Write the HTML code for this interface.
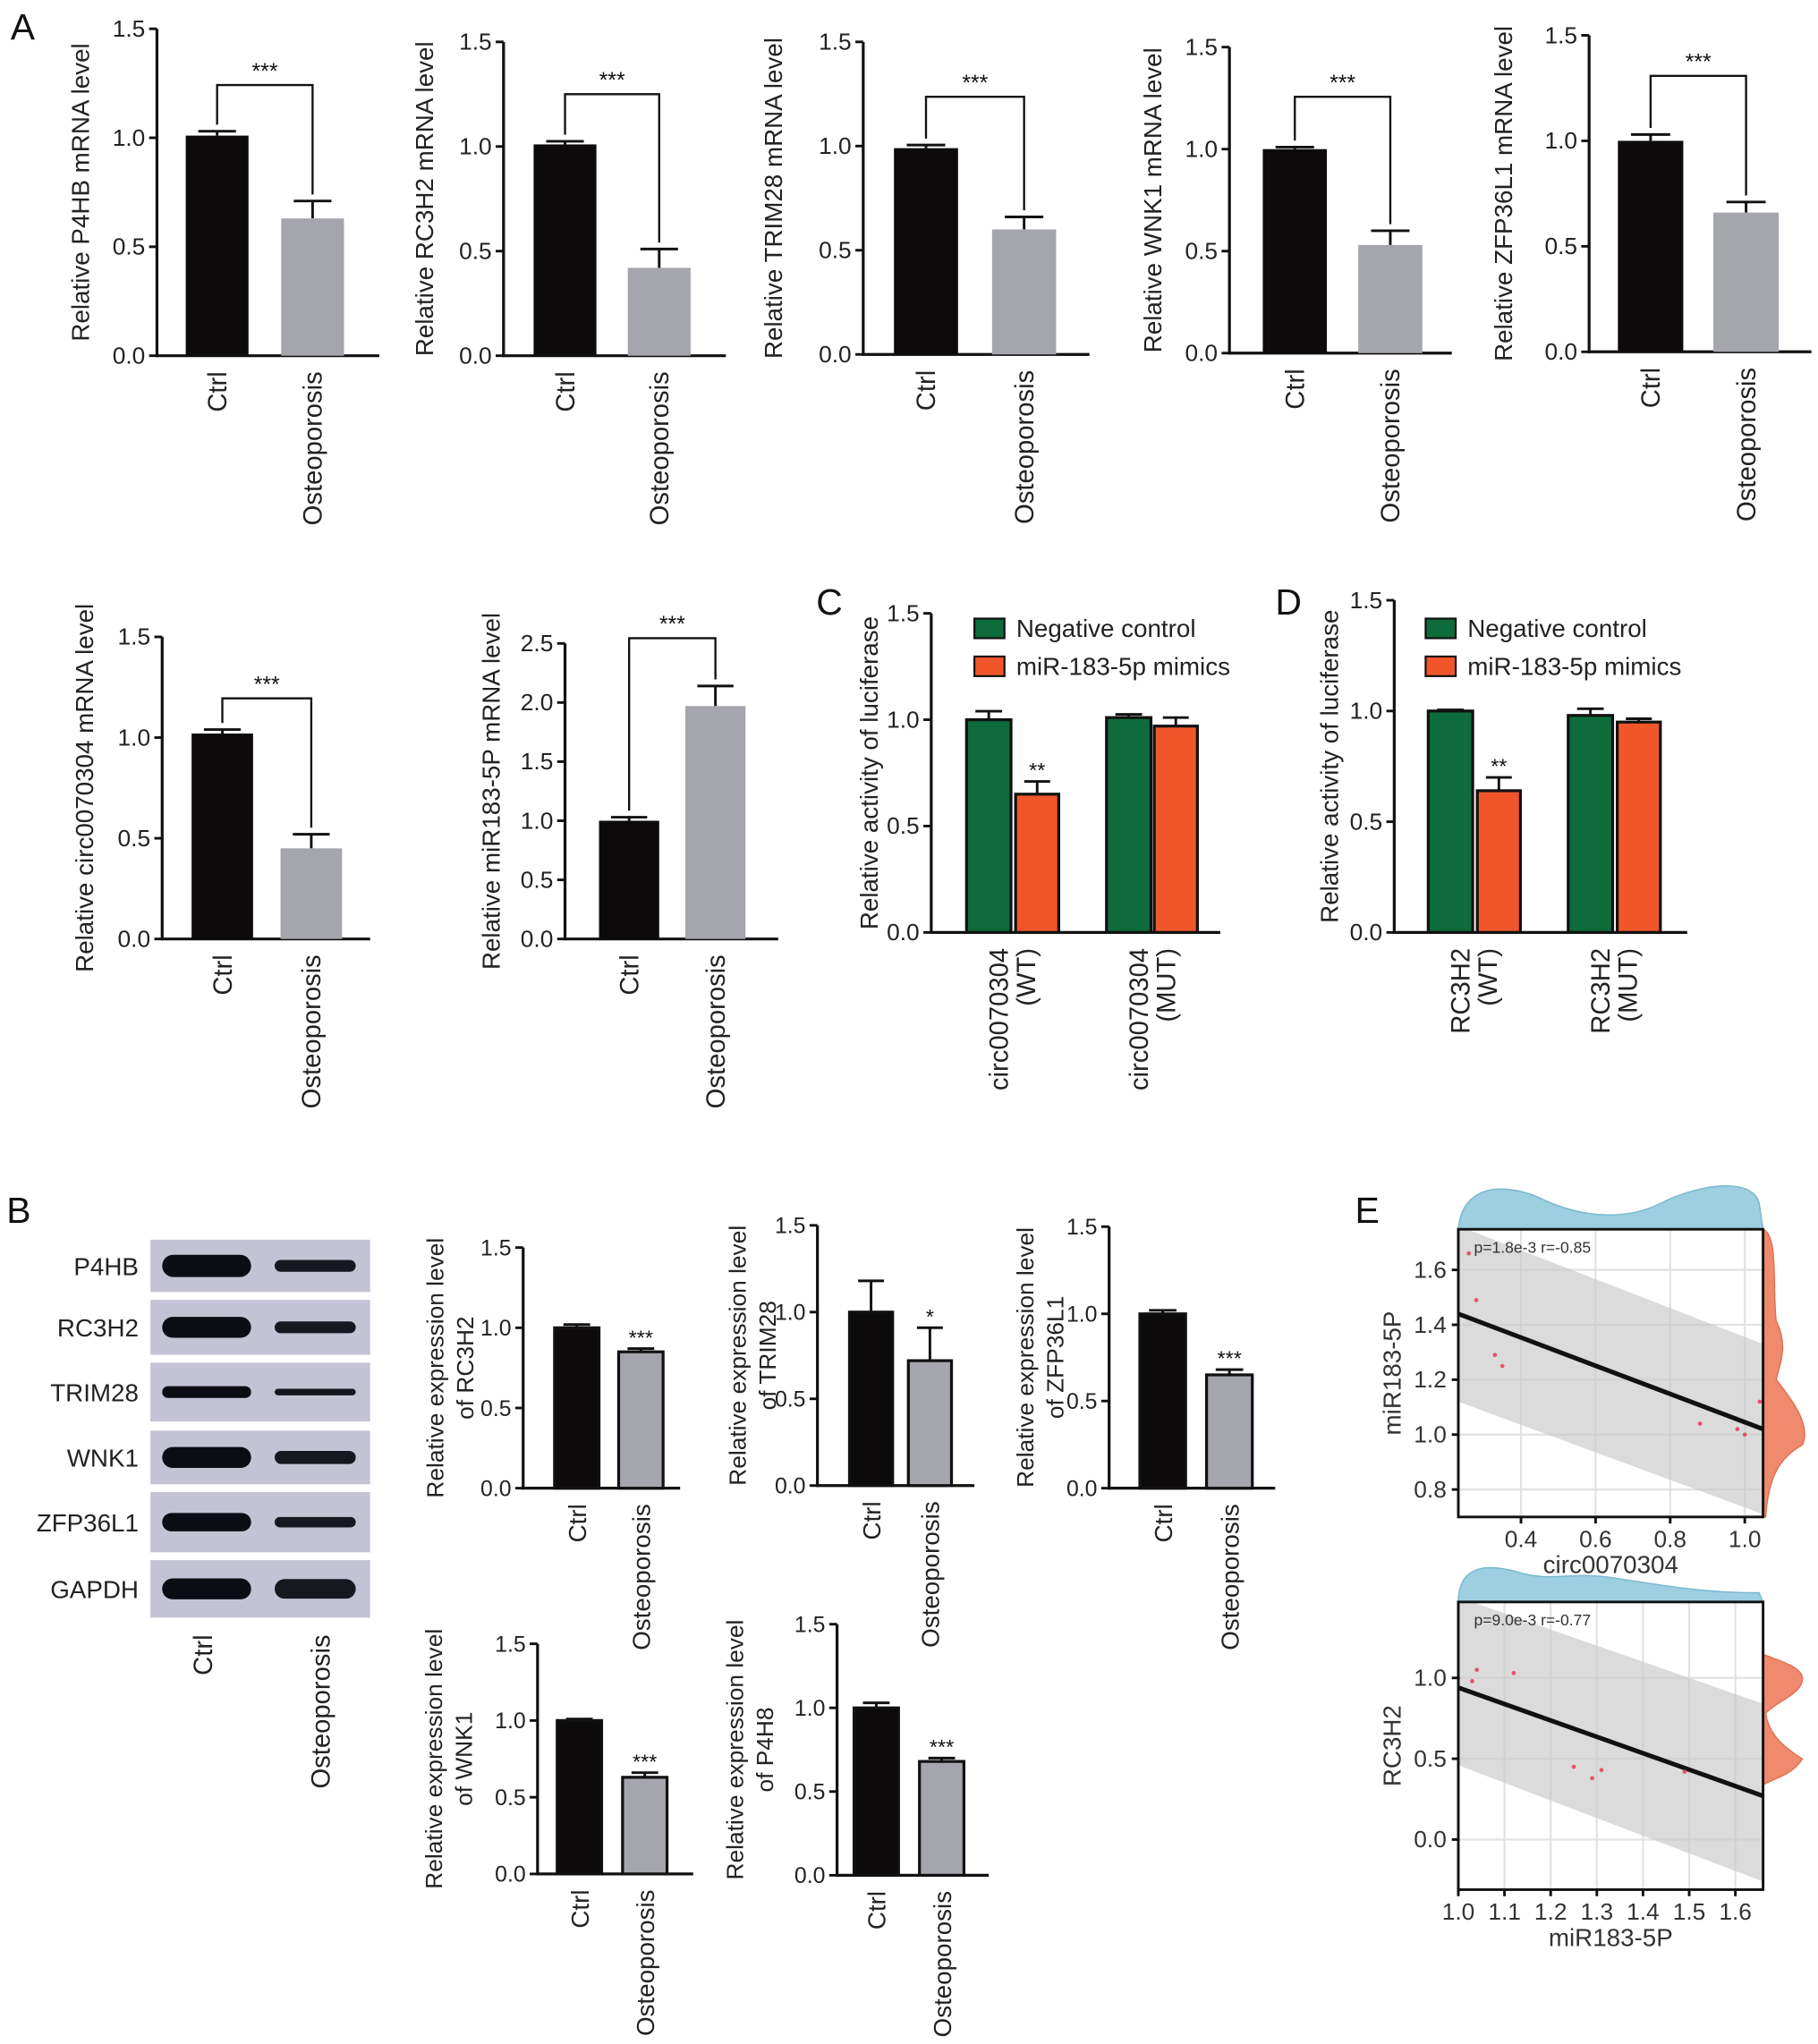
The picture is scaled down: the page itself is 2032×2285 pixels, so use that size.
<!DOCTYPE html>
<html><head><meta charset="utf-8"><style>
html,body{margin:0;padding:0;background:#fff}
svg{display:block;font-family:"Liberation Sans",Arial,sans-serif}
</style></head><body>
<svg id="fig" xmlns="http://www.w3.org/2000/svg" width="2032" height="2285" viewBox="0 0 1390 1563">
<rect x="0" y="0" width="1390" height="1563" fill="#fff"/>
<g id="root"></g>
</svg>
<script>
// ---- data ----
const groups = ["Ctrl","Osteoporosis"];
const p4hbMrna = [1.01, 0.63]; const p4hbMrnaErr = [0.02, 0.08];
const rc3h2Mrna = [1.01, 0.42]; const rc3h2MrnaErr = [0.015, 0.09];
const trim28Mrna = [0.99, 0.60]; const trim28MrnaErr = [0.015, 0.06];
const wnk1Mrna = [1.0, 0.53]; const wnk1MrnaErr = [0.01, 0.07];
const zfpMrna = [1.0, 0.66]; const zfpMrnaErr = [0.03, 0.05];
const circMrna = [1.02, 0.45]; const circMrnaErr = [0.02, 0.07];
const mirMrna = [1.0, 1.97]; const mirMrnaErr = [0.03, 0.17];
const lucCircNC = [1.0, 1.01]; const lucCircNCErr = [0.04, 0.015];
const lucCircMim = [0.65, 0.97]; const lucCircMimErr = [0.06, 0.04];
const lucRcNC = [1.0, 0.98]; const lucRcNCErr = [0.005, 0.03];
const lucRcMim = [0.64, 0.95]; const lucRcMimErr = [0.06, 0.015];
const protRc3h2 = [1.0, 0.85]; const protRc3h2Err = [0.02, 0.02];
const protTrim28 = [1.0, 0.72]; const protTrim28Err = [0.18, 0.19];
const protZfp = [1.0, 0.65]; const protZfpErr = [0.02, 0.03];
const protWnk1 = [1.0, 0.63]; const protWnk1Err = [0.01, 0.03];
const protP4hb = [1.0, 0.68]; const protP4hbErr = [0.03, 0.02];
const circX = [0.23,0.26,0.28,0.33,0.35,0.88,0.98,1.0,1.04];
const circMirY = [1.30,1.66,1.49,1.29,1.25,1.04,1.02,1.0,1.12];
const mirX = [1.0,1.03,1.04,1.12,1.25,1.29,1.31,1.49];
const mirRcY = [1.0,0.98,1.05,1.03,0.45,0.38,0.43,0.42];

const NS="http://www.w3.org/2000/svg";
const root=document.getElementById('root');
function el(tag,attrs,parent,txt){const e=document.createElementNS(NS,tag);for(const k in attrs)e.setAttribute(k,attrs[k]);if(txt!==undefined)e.textContent=txt;(parent||root).appendChild(e);return e;}

function chart(o){
  const g=el('g',{});
  
  
  const sy=v=>o.yb-(v/o.ymax)*(o.yb-o.yt);
  const ya=el('line',{x1:o.ax,y1:o.yt,x2:o.ax,y2:o.yb+1,stroke:'#111','stroke-width':2.2},g);
  
  const xa=el('line',{x1:o.ax-1,y1:o.yb,x2:o.xEnd,y2:o.yb,stroke:'#111','stroke-width':2.2},g);
  
  for(let v=0;v<=o.ymax+1e-9;v+=o.step){
    const y=sy(v);
    el('line',{x1:o.ax-6,y1:y,x2:o.ax,y2:y,stroke:'#111','stroke-width':2},g);
    const t=el('text',{x:o.ax-9,y:y+6,'text-anchor':'end','font-size':o.fs||18,fill:'#222'},g,v.toFixed(1));
    
  }
  o.ylab.forEach(l=>{const t=el('text',{x:0,y:0,transform:`translate(${l.x},${o.ylmid||(o.yt+o.yb)/2}) rotate(-90)`,'text-anchor':'middle','font-size':o.lfs||19,fill:'#222'},g,l.t);
    });
  o.series.forEach(s=>{
    s.vals.forEach((v,i)=>{
      const c=s.cx[i],w=s.w,y=sy(v);
      const ey=sy(v+s.err[i]);
      el('line',{x1:c,y1:y,x2:c,y2:ey,stroke:'#111','stroke-width':2},g);
      el('line',{x1:c-w*0.3,y1:ey,x2:c+w*0.3,y2:ey,stroke:'#111','stroke-width':2},g);
      const r=el('rect',{x:c-w/2,y:y,width:w,height:o.yb-y,fill:s.fill[i],stroke:s.stroke?'#111':'none','stroke-width':s.stroke?2.2:0},g);
      
      
      if(s.sig&&s.sig[i]){const t=el('text',{x:c,y:ey-3,'text-anchor':'middle','font-size':16,fill:'#111'},g,s.sig[i]);
        }
    });
  });
  if(o.bracket){
    const s=o.series[0];const b=o.bracket;
    const y1=sy(s.vals[0]+s.err[0])-5, y2=sy(s.vals[1]+s.err[1])-5;
    el('polyline',{points:`${s.cx[0]},${y1} ${s.cx[0]},${b.y} ${s.cx[1]},${b.y} ${s.cx[1]},${y2}`,fill:'none',stroke:'#111','stroke-width':1.6},g);
    const t=el('text',{x:(s.cx[0]+s.cx[1])/2,y:b.y-5,'text-anchor':'middle','font-size':17,fill:'#111'},g,'***');
    
  }
  o.xl.forEach(l=>{
    l.lines.forEach((ln,j)=>{
      const x=l.x+7+(j-(l.lines.length-1)/2)*21;
      const t=el('text',{x:0,y:0,transform:`translate(${x},${o.yb+12}) rotate(-90)`,'text-anchor':'end','font-size':o.xfs||20,fill:'#222'},g,ln);
      
    });
  });
  return g;
}
const BLK='#0d0a0b',GRY='#a5a5ad',GRN='#0e6b3b',ORG='#f0562a';
function two(name,ax,yt,yb,xEnd,cx,w,vals,err,ylab,bracketY,opts){
  opts=opts||{};
  return chart(Object.assign({name,ax,yt,yb,ymax:opts.ymax||1.5,step:0.5,xEnd,
    series:[{cx,w,vals,err,fill:[BLK,GRY],stroke:opts.stroke,sig:opts.sig,label:'expr'}],
    ylab,bracket:bracketY?{y:bracketY}:null,
    xl:[{x:cx[0],lines:[groups[0]]},{x:cx[1],lines:[groups[1]]}]},opts.extra||{}));
}
two('chart-p4hb-mrna',120,22,272,290,[166,239],48,p4hbMrna,p4hbMrnaErr,[{x:68,t:'Relative P4HB mRNA level'}],65);
two('chart-rc3h2-mrna',385,32,272,555,[432,504],48,rc3h2Mrna,rc3h2MrnaErr,[{x:331,t:'Relative RC3H2 mRNA level'}],72);
two('chart-trim28-mrna',660,32,271,833,[708,783],49,trim28Mrna,trim28MrnaErr,[{x:598,t:'Relative TRIM28 mRNA level'}],74);
two('chart-wnk1-mrna',940,36,270,1110,[990,1063],49,wnk1Mrna,wnk1MrnaErr,[{x:888,t:'Relative WNK1 mRNA level'}],74);
two('chart-zfp36l1-mrna',1215,27,269,1385,[1262,1335],50,zfpMrna,zfpMrnaErr,[{x:1156,t:'Relative ZFP36L1 mRNA level'}],58);
two('chart-circ-mrna',124,487,718,283,[170,238],47,circMrna,circMrnaErr,[{x:71,t:'Relative circ0070304 mRNA level'}],534);
two('chart-mir183-mrna',432,492,718,595,[481,547],46,mirMrna,mirMrnaErr,[{x:382,t:'Relative miR183-5P mRNA level'}],488,{ymax:2.5});
chart({name:'chart-luciferase-circ',ax:712,yt:469,yb:713,ymax:1.5,step:0.5,xEnd:933,
  series:[{cx:[756,863],w:34,vals:lucCircNC,err:lucCircNCErr,fill:[GRN,GRN],stroke:true,label:'negative-control'},
          {cx:[793,899],w:33,vals:lucCircMim,err:lucCircMimErr,fill:[ORG,ORG],stroke:true,sig:['**',''],label:'mimics'}],
  ylab:[{x:671,t:'Relative activity of luciferase'}],xl:[{x:774,lines:['circ0070304','(WT)']},{x:881,lines:['circ0070304','(MUT)']}]});
chart({name:'chart-luciferase-rc3h2',ax:1066,yt:459,yb:713,ymax:1.5,step:0.5,xEnd:1290,
  series:[{cx:[1109,1216],w:34,vals:lucRcNC,err:lucRcNCErr,fill:[GRN,GRN],stroke:true,label:'negative-control'},
          {cx:[1146,1253],w:33,vals:lucRcMim,err:lucRcMimErr,fill:[ORG,ORG],stroke:true,sig:['**',''],label:'mimics'}],
  ylab:[{x:1023,t:'Relative activity of luciferase'}],xl:[{x:1127,lines:['RC3H2','(WT)']},{x:1234,lines:['RC3H2','(MUT)']}]});
function legend(x,y){
  [[GRN,'Negative control'],[ORG,'miR-183-5p mimics']].forEach((d,i)=>{
    const r=el('rect',{x:x,y:y+i*29-8,width:23,height:15,fill:d[0],stroke:'#111','stroke-width':1.5});
    
    const t=el('text',{x:x+32,y:y+i*29+6,'font-size':19,fill:'#222'},root,d[1]);
    
  });
}
legend(745,481);legend(1090,481);
const bo={stroke:true,sig:['','***'],extra:{lfs:18,xfs:19,fs:17}};
two('chart-rc3h2-protein',400,954,1138,520,[441,490],34,protRc3h2,protRc3h2Err,[{x:339,t:'Relative expression level'},{x:362,t:'of RC3H2'}],null,bo);
two('chart-trim28-protein',625,937,1136,745,[666,711],33,protTrim28,protTrim28Err,[{x:570,t:'Relative expression level'},{x:593,t:'of TRIM28'}],null,{stroke:true,sig:['','*'],extra:bo.extra});
two('chart-zfp36l1-protein',848,938,1138,975,[889,940],35,protZfp,protZfpErr,[{x:790,t:'Relative expression level'},{x:813,t:'of ZFP36L1'}],null,bo);
two('chart-wnk1-protein',411,1257,1433,530,[443,493],34,protWnk1,protWnk1Err,[{x:338,t:'Relative expression level'},{x:361,t:'of WNK1'}],null,bo);
two('chart-p4hb-protein',640,1242,1434,756,[670,720],34,protP4hb,protP4hbErr,[{x:568,t:'Relative expression level'},{x:591,t:'of P4H8'}],null,bo);
// Western blot
const blotRows=[['P4HB',948,988,[17,9]],['RC3H2',994,1036,[16,9]],['TRIM28',1042,1087,[9,5]],['WNK1',1094,1135,[16,10]],['ZFP36L1',1141,1187,[14,8]],['GAPDH',1193,1237,[16,15]]];
blotRows.forEach(r=>{
  const g=el('g',{});
  el('rect',{x:115,y:r[1],width:168,height:r[2]-r[1],fill:'#c4c3d6'},g);
  const cy=(r[1]+r[2])/2;
  el('rect',{x:124,y:cy-r[3][0]/2,width:68,height:r[3][0],rx:r[3][0]/2,fill:'#0c0c14'},g);
  el('rect',{x:210,y:cy-r[3][1]/2,width:62,height:r[3][1],rx:r[3][1]/2,fill:'#17171f'},g);
  const t=el('text',{x:106,y:cy+7,'text-anchor':'end','font-size':19,fill:'#222'},g,r[0]);
  
});
[[155,'Ctrl'],[245,'Osteoporosis']].forEach(d=>{const t=el('text',{x:0,y:0,transform:`translate(${d[0]+7},1250) rotate(-90)`,'text-anchor':'end','font-size':20,fill:'#222'},root,d[1]);
  });
[['A',8,30],['C',624,470],['D',975,470],['B',5,935],['E',1036,935]].forEach(d=>{const t=el('text',{x:d[1],y:d[2],'font-size':28,fill:'#111'},root,d[0]);
  });
function scatter(o){
  const g=el('g',{});
  const sx=v=>o.x0+(v-o.xd[0])/(o.xd[1]-o.xd[0])*(o.x1-o.x0);
  const sy=v=>o.y1-(v-o.yd[0])/(o.yd[1]-o.yd[0])*(o.y1-o.y0);
  const cid='clip'+o.name;
  const cp=el('clipPath',{id:cid},g);el('rect',{x:o.x0,y:o.y0,width:o.x1-o.x0,height:o.y1-o.y0},cp);
  const dt=el('path',{d:o.topD,fill:'#9dcfe0',stroke:'#7ab8cf','stroke-width':1},g);
  
  const dr=el('path',{d:o.rightD,fill:'#ef8a6e',stroke:'#e07050','stroke-width':1},g);
  
  const inner=el('g',{'clip-path':`url(#${cid})`},g);
  o.xt.forEach(v=>el('line',{x1:sx(v),y1:o.y0,x2:sx(v),y2:o.y1,stroke:'#e2e2e2','stroke-width':1.5},inner));
  o.yt.forEach(v=>el('line',{x1:o.x0,y1:sy(v),x2:o.x1,y2:sy(v),stroke:'#e2e2e2','stroke-width':1.5},inner));
  const band=el('polygon',{points:`${o.x0},${sy(o.band[0])} ${o.x1},${sy(o.band[1])} ${o.x1},${sy(o.band[3])} ${o.x0},${sy(o.band[2])}`,fill:'#c8c8c8','fill-opacity':0.65},inner);
  
  const ln=el('line',{x1:o.x0,y1:sy(o.fit[0]),x2:o.x1,y2:sy(o.fit[1]),stroke:'#111','stroke-width':3.5},inner);
  
  o.xs.forEach((v,i)=>{const p=el('circle',{cx:sx(v),cy:sy(o.ys[i]),r:1.6,fill:'#e8506a'},inner);
    });
  el('rect',{x:o.x0,y:o.y0,width:o.x1-o.x0,height:o.y1-o.y0,fill:'none',stroke:'#111','stroke-width':2},g);
  o.xt.forEach(v=>{el('line',{x1:sx(v),y1:o.y1,x2:sx(v),y2:o.y1+5,stroke:'#111','stroke-width':2},g);
    const t=el('text',{x:sx(v),y:o.y1+23,'text-anchor':'middle','font-size':18,fill:'#333'},g,v.toFixed(1));
    });
  o.yt.forEach(v=>{el('line',{x1:o.x0-5,y1:sy(v),x2:o.x0,y2:sy(v),stroke:'#111','stroke-width':2},g);
    const t=el('text',{x:o.x0-9,y:sy(v)+6,'text-anchor':'end','font-size':18,fill:'#333'},g,v.toFixed(1));
    });
  const xtl=el('text',{x:(o.x0+o.x1)/2,y:o.y1+43,'text-anchor':'middle','font-size':19,fill:'#333'},g,o.xlab);
  
  const ytl=el('text',{x:0,y:0,transform:`translate(${o.x0-44},${(o.y0+o.y1)/2}) rotate(-90)`,'text-anchor':'middle','font-size':19,fill:'#333'},g,o.ylab);
  
  const st=el('text',{x:o.x0+12,y:o.y0+18,'font-size':12,fill:'#333'},g,o.stat);
  
}
scatter({name:'scatter-circ-mir',x0:1115,x1:1348,y0:940,y1:1160,xd:[0.232,1.049],yd:[0.7,1.748],
  xt:[0.4,0.6,0.8,1.0],yt:[0.8,1.0,1.2,1.4,1.6],xs:circX,ys:circMirY,fit:[1.44,1.02],band:[1.76,1.33,1.12,0.71],
  xlab:'circ0070304',ylab:'miR183-5P',stat:'p=1.8e-3 r=-0.85',
  topD:'M1115,940 C1118,905 1150,905 1175,915 C1205,930 1240,935 1270,920 C1300,905 1340,900 1345,920 L1348,940 Z',
  rightD:'M1348,940 C1360,945 1355,985 1358,1010 C1368,1030 1360,1045 1358,1055 C1370,1070 1385,1090 1378,1105 C1360,1115 1352,1130 1350,1160 L1348,1160 Z'});
scatter({name:'scatter-mir-rc3h2',x0:1115,x1:1348,y0:1225,y1:1445,xd:[1.0,1.66],yd:[-0.31,1.47],
  xt:[1.0,1.1,1.2,1.3,1.4,1.5,1.6],yt:[0.0,0.5,1.0],xs:mirX,ys:mirRcY,fit:[0.94,0.27],band:[1.5,0.84,0.46,-0.26],
  xlab:'miR183-5P',ylab:'RC3H2',stat:'p=9.0e-3 r=-0.77',
  topD:'M1115,1225 C1115,1198 1135,1195 1160,1202 C1185,1210 1200,1202 1230,1206 C1270,1212 1300,1218 1345,1218 L1348,1225 Z',
  rightD:'M1348,1265 C1360,1270 1380,1275 1378,1285 C1376,1296 1360,1300 1350,1310 C1352,1325 1362,1335 1378,1345 C1370,1358 1355,1360 1348,1365 Z'});
</script>
</body></html>
